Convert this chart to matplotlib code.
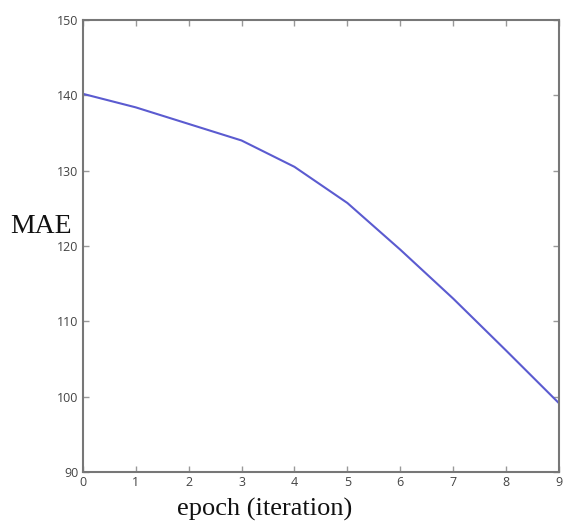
import matplotlib
matplotlib.use('Agg')
import matplotlib.pyplot as plt

epochs = [0, 1, 2, 3, 4, 5, 6, 7, 8, 9]
mae = [140.2, 138.4, 136.2, 134.0, 130.5, 125.7, 119.5, 113.0, 106.1, 99.1]

fig = plt.figure(figsize=(5.63, 5.26), dpi=100)
ax = fig.add_axes([0.147, 0.103, 0.846, 0.859])

ax.plot(epochs, mae, color='#5b5bd0', linewidth=1.5)

ax.set_xlim(0, 9)
ax.set_ylim(90, 150)
ax.set_xticks(range(0, 10))
ax.set_yticks(range(90, 151, 10))

for s in ax.spines.values():
    s.set_color('#777777')
    s.set_linewidth(1.5)
ax.tick_params(direction='in', top=True, right=True, length=4, width=1,
               color='#999999', labelsize=9, labelcolor='#444444', pad=3)
for lab in ax.get_xticklabels() + ax.get_yticklabels():
    lab.set_family('Open Sans')

ax.set_ylabel('MAE', family='Liberation Serif', fontsize=20, rotation=0,
              color='#111111', ha='center', va='center')
ax.yaxis.set_label_coords(-0.088, 0.543)
ax.set_xlabel('epoch (iteration)', family='Liberation Serif', fontsize=19,
              color='#111111', ha='center', va='center')
ax.xaxis.set_label_coords(0.382, -0.083)

fig.savefig('out.png', dpi=100)
